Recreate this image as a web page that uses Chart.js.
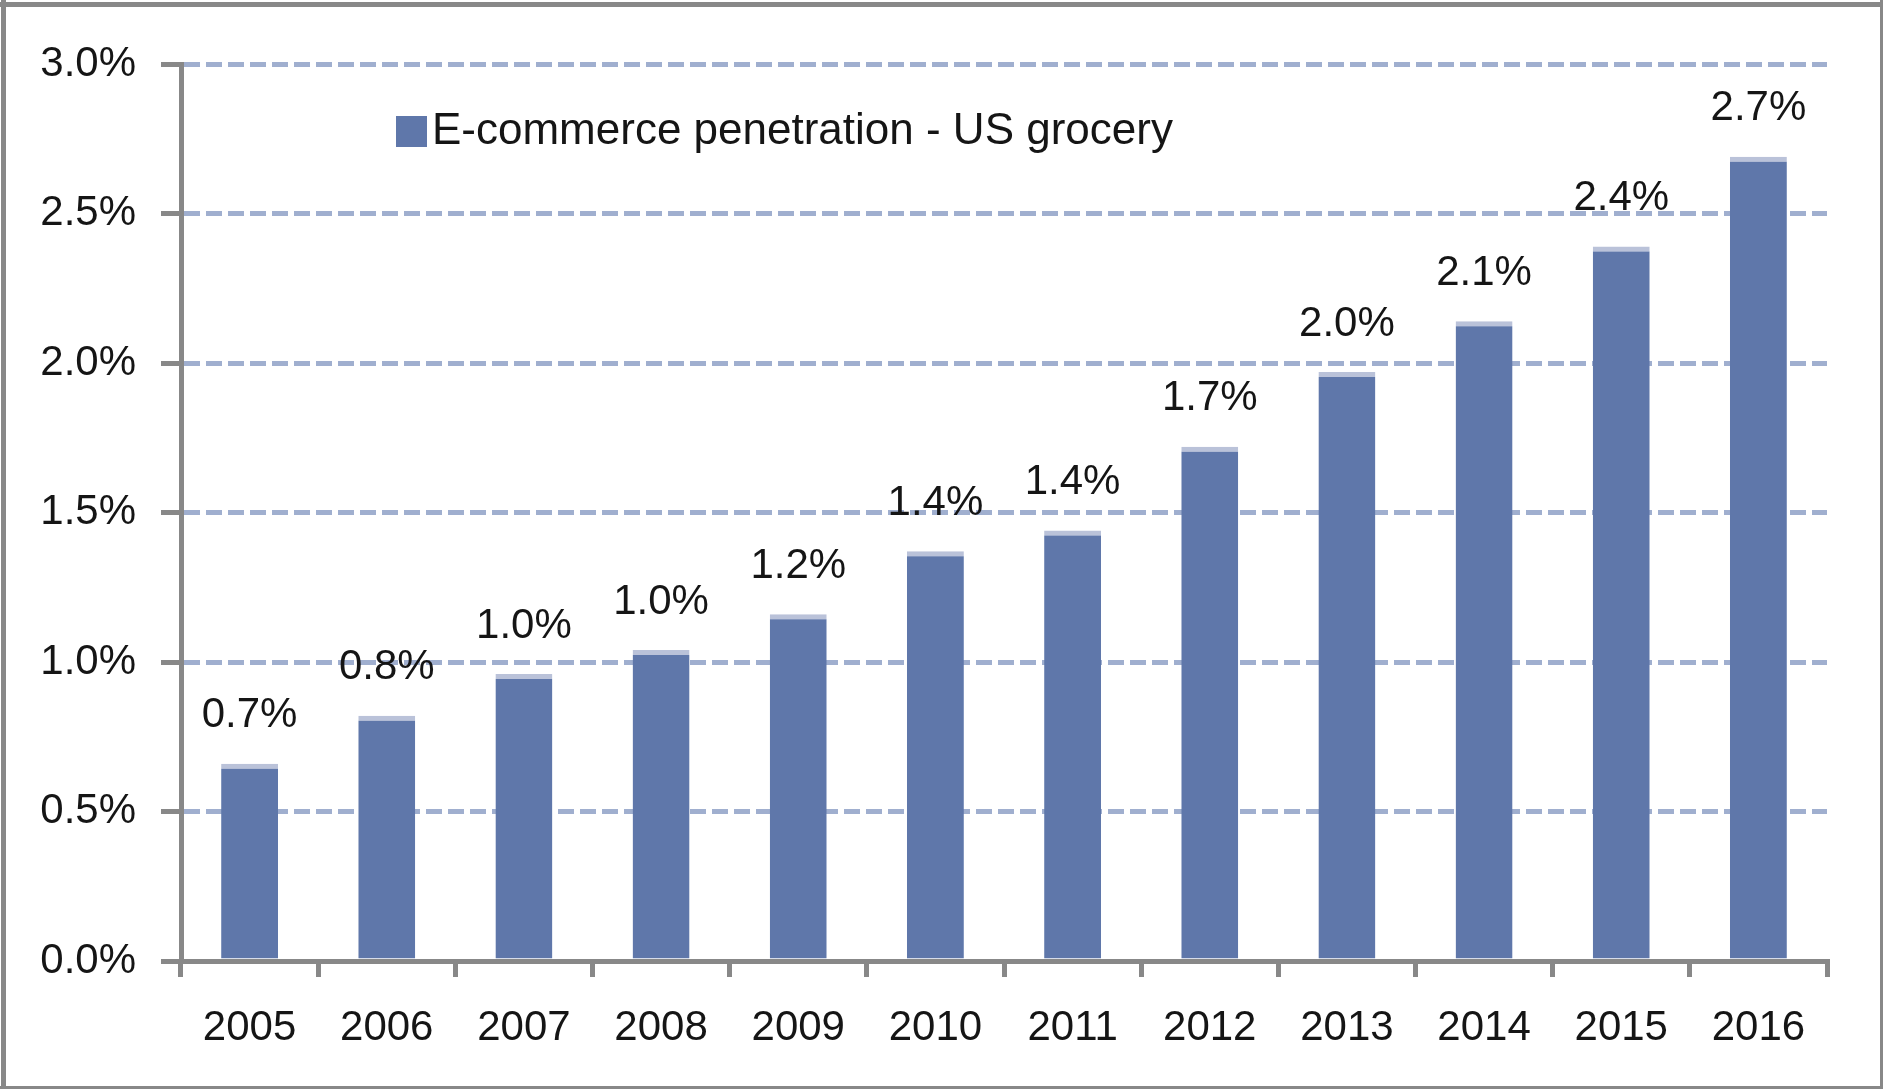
<!DOCTYPE html>
<html>
<head>
<meta charset="utf-8">
<script src="https://cdn.jsdelivr.net/npm/chart.js@4/dist/chart.umd.min.js"></script>
<style>
html,body{margin:0;padding:0;background:#fff;}
#wrap{width:1883px;height:1089px;position:relative;}
canvas{display:block;}
</style>
</head>
<body>
<div id="wrap"><canvas id="c" width="1883" height="1089"></canvas></div>
<script>
// ---- data ----
const years = ['2005','2006','2007','2008','2009','2010','2011','2012','2013','2014','2015','2016'];
const penetration = [0.66,0.82,0.96,1.04,1.16,1.37,1.44,1.72,1.97,2.14,2.39,2.69];
const seriesName = 'E-commerce penetration - US grocery';
const yMin = 0, yMax = 3, yStep = 0.5;

// ---- styles ----
function hasFont(name){
  const c = document.createElement('canvas').getContext('2d');
  const s = '2005 E-commerce penetration 3.0%';
  c.font = '40px monospace'; const a = c.measureText(s).width;
  c.font = '40px "' + name + '", monospace'; const b = c.measureText(s).width;
  return Math.abs(a - b) > 0.5;
}
const narrow = hasFont('Liberation Sans Narrow');
const FAMILY = narrow ? '"Liberation Sans Narrow", "Liberation Sans", sans-serif' : '"Liberation Sans", sans-serif';
const FSIZE = narrow ? 49 : 42;
const LEGEND_SIZE = narrow ? 52 : 44;
const TEXT = '#151515';
const BAR = '#5F77AA';
const BAR_TOP = '#BAC2D9';
const AXIS = '#888888';
const GRID = '#A0AFCF';

const pagePlugin = {
  id: 'page',
  beforeDraw(chart){
    const ctx = chart.ctx;
    ctx.save();
    ctx.fillStyle = '#ffffff';
    ctx.fillRect(0,0,chart.width,chart.height);
    ctx.restore();
  },
  afterDraw(chart){
    const ctx = chart.ctx;
    ctx.save();
    ctx.fillStyle = AXIS;
    ctx.fillRect(0,2,chart.width,5);
    ctx.fillRect(1,0,5,chart.height);
    ctx.fillRect(chart.width-3,0,3,chart.height);
    ctx.fillRect(0,chart.height-3,chart.width,3);
    ctx.restore();
  }
};

const labelPlugin = {
  id: 'valueLabels',
  afterDatasetsDraw(chart){
    const ctx = chart.ctx;
    const meta = chart.getDatasetMeta(0);
    const data = chart.data.datasets[0].data;
    ctx.save();
    ctx.font = FSIZE + 'px ' + FAMILY;
    ctx.fillStyle = TEXT;
    ctx.textAlign = 'center';
    ctx.textBaseline = 'middle';
    meta.data.forEach((bar, i) => {
      ctx.fillText(data[i].toFixed(1) + '%', bar.x, bar.y - 48);
    });
    ctx.restore();
  }
};

const legendPlugin = {
  id: 'innerLegend',
  afterDraw(chart){
    const ctx = chart.ctx;
    const ds = chart.data.datasets[0];
    ctx.save();
    ctx.fillStyle = ds.backgroundColor;
    ctx.fillRect(396,116,31,31);
    ctx.font = LEGEND_SIZE + 'px ' + FAMILY;
    ctx.fillStyle = TEXT;
    ctx.textAlign = 'left';
    ctx.textBaseline = 'middle';
    ctx.fillText(ds.label, 432, 132);
    ctx.restore();
  }
};

new Chart(document.getElementById('c'), {
  type: 'bar',
  data: {
    labels: years,
    datasets: [{
      label: seriesName,
      data: penetration,
      backgroundColor: BAR,
      borderColor: BAR_TOP,
      borderWidth: {top: 5, left: 0, right: 0, bottom: 0},
      borderSkipped: 'start',
      barPercentage: 0.415,
      categoryPercentage: 1.0
    }]
  },
  options: {
    responsive: false,
    animation: false,
    devicePixelRatio: 1,
    layout: { padding: { left: 10, right: 56, top: 64, bottom: 28 } },
    plugins: { legend: { display: false }, tooltip: { enabled: false } },
    scales: {
      x: {
        grid: {
          drawOnChartArea: false,
          offset: true,
          tickLength: 16,
          tickWidth: 5,
          tickColor: AXIS,
          lineWidth: 5,
          color: AXIS
        },
        border: { display: true, color: AXIS, width: 5 },
        ticks: { color: TEXT, font: { family: FAMILY, size: FSIZE }, padding: 26, maxRotation: 0, autoSkip: false },
        afterFit(scale){ scale.height = 100; }
      },
      y: {
        min: yMin, max: yMax,
        grid: {
          color: (c) => (c.tick && c.tick.value === 0) ? 'rgba(0,0,0,0)' : GRID,
          lineWidth: 5,
          tickLength: 20,
          tickWidth: 5,
          tickColor: AXIS
        },
        border: { display: true, color: AXIS, width: 5, dash: [16, 6] },
        ticks: {
          stepSize: yStep,
          color: TEXT,
          font: { family: FAMILY, size: FSIZE },
          padding: 25,
          callback: (v) => Number(v).toFixed(1) + '%'
        },
        afterFit(scale){ scale.width = 171; }
      }
    }
  },
  plugins: [pagePlugin, labelPlugin, legendPlugin]
});
</script>
</body>
</html>
